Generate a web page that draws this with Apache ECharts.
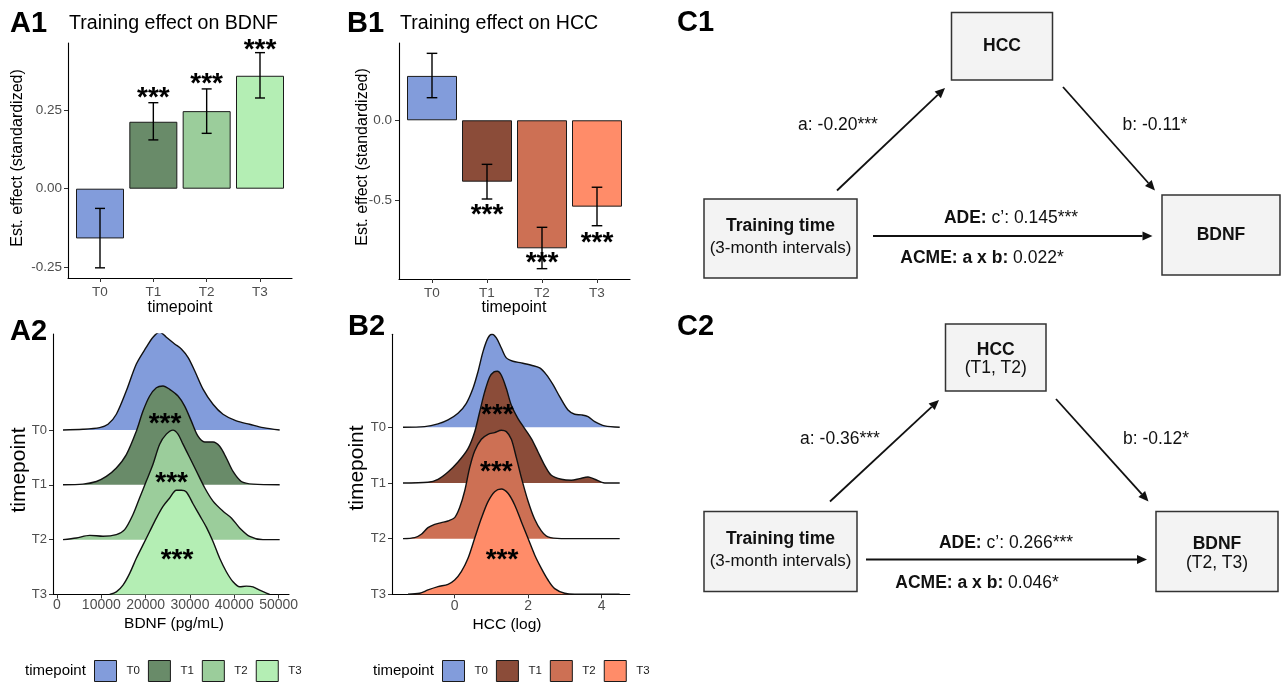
<!DOCTYPE html>
<html><head><meta charset="utf-8">
<script src="https://cdn.jsdelivr.net/npm/echarts@6/dist/echarts.min.js"></script>
<style>html,body{margin:0;padding:0;background:#fff}#c{width:1282px;height:683px}</style>
</head><body><div id="c"></div>
<script>
// ---------- data ----------
const timepoints = ['T0', 'T1', 'T2', 'T3'];
const bdnfColors = ['#829CDB', '#698B69', '#9BCD9B', '#B4EEB4'];
const hccColors  = ['#829CDB', '#8B4C39', '#CD7054', '#FF8C69'];

// A1: training effect on BDNF
const bdnfEffect = [-0.159, 0.214, 0.248, 0.361];
const bdnfLower  = [-0.253, 0.156, 0.177, 0.290];
const bdnfUpper  = [-0.063, 0.275, 0.319, 0.435];
const bdnfStarY  = [null, 0.306, 0.351, 0.458];
const bdnfYTicks = [-0.25, 0, 0.25];

// B1: training effect on HCC
const hccEffect = [0.279, -0.386, -0.805, -0.543];
const hccLower  = [0.142, -0.495, -0.933, -0.663];
const hccUpper  = [0.421, -0.277, -0.673, -0.421];
const hccStarY  = [null, -0.564, -0.868, -0.742];
const hccYTicks = [-1, -0.5, 0];

// A2: BDNF densities [x, height in row units]
const bdnfRidgeT0 = [[1354,0],[5866,0.012],[9626,0.043],[11506,0.104],[13386,0.287],[15642,0.714],[17898,1.203],[20154,1.509],[21658,1.692],[23162,1.784],[24666,1.692],[26546,1.569],[28050,1.478],[29554,1.325],[31058,1.081],[32938,0.745],[35194,0.469],[37450,0.287],[40458,0.165],[43466,0.104],[46474,0.043],[50234,0]];
const bdnfRidgeT1 = [[1354,0],[5866,0.012],[8874,0.061],[11130,0.153],[13386,0.305],[15642,0.550],[17898,0.978],[19402,1.344],[20906,1.619],[22410,1.771],[23914,1.802],[25418,1.741],[27298,1.619],[28802,1.436],[30306,1.161],[31810,0.886],[33314,0.782],[35194,0.782],[36698,0.702],[38202,0.489],[39706,0.244],[41586,0.061],[44218,0.012],[50234,0]];
const bdnfRidgeT2 = [[1354,0],[4362,0.031],[7370,0.079],[10378,0.061],[13386,0.092],[15266,0.183],[17146,0.458],[18650,0.764],[20154,1.069],[21658,1.375],[23162,1.741],[24666,1.924],[26170,1.998],[27298,1.924],[28426,1.741],[29930,1.497],[31434,1.252],[33314,0.947],[35194,0.703],[37450,0.519],[39330,0.397],[41210,0.214],[43466,0.061],[46474,0],[50234,0]];
const bdnfRidgeT3 = [[11882,0],[13386,0.049],[14890,0.171],[16394,0.385],[17898,0.660],[19402,0.904],[20906,1.148],[22410,1.393],[23914,1.607],[25418,1.759],[26922,1.900],[28050,1.900],[29178,1.869],[30682,1.655],[32186,1.442],[33690,1.228],[35194,0.965],[36698,0.660],[38202,0.415],[39706,0.232],[41210,0.140],[42714,0.153],[44218,0.140],[45722,0.079],[47978,0]];
const bdnfStars = [[24360, 3.195], [25870, 2.126], [27070, 0.709]];
const bdnfXTicks = [0, 10000, 20000, 30000, 40000, 50000];

// B2: HCC (log) densities
const hccRidgeT0 = [[-1.406,0],[-0.816,0.012],[-0.454,0.060],[-0.181,0.132],[0.091,0.251],[0.317,0.431],[0.499,0.701],[0.635,1.000],[0.771,1.359],[0.907,1.605],[1.016,1.671],[1.134,1.605],[1.270,1.425],[1.406,1.246],[1.587,1.186],[1.814,1.156],[2.086,1.114],[2.313,1.066],[2.494,0.946],[2.676,0.766],[2.857,0.551],[3.084,0.311],[3.265,0.234],[3.447,0.222],[3.628,0.192],[3.810,0.102],[4.082,0.024],[4.490,0]];
const hccRidgeT1 = [[-1.406,0],[-0.726,0.012],[-0.454,0.066],[-0.181,0.198],[0.091,0.377],[0.363,0.617],[0.544,0.916],[0.680,1.275],[0.816,1.635],[0.952,1.904],[1.070,1.994],[1.161,2.006],[1.270,1.934],[1.406,1.695],[1.542,1.395],[1.723,1.156],[1.905,0.976],[2.086,0.796],[2.268,0.557],[2.449,0.317],[2.630,0.138],[2.902,0.066],[3.175,0.048],[3.401,0.078],[3.628,0.108],[3.810,0.066],[4.082,0],[4.490,0]];
const hccRidgeT2 = [[-1.406,0],[-1.088,0.018],[-0.907,0.078],[-0.726,0.198],[-0.544,0.257],[-0.363,0.287],[-0.181,0.317],[0,0.377],[0.136,0.557],[0.272,0.856],[0.408,1.275],[0.544,1.575],[0.726,1.784],[0.907,1.874],[1.088,1.904],[1.270,1.946],[1.406,1.922],[1.542,1.784],[1.678,1.455],[1.814,1.096],[1.995,0.677],[2.177,0.347],[2.358,0.138],[2.540,0.030],[2.902,0],[4.490,0]];
const hccRidgeT3 = [[-1.270,0],[-0.952,0.018],[-0.726,0.078],[-0.454,0.138],[-0.181,0.180],[0,0.257],[0.181,0.407],[0.363,0.647],[0.544,1.006],[0.726,1.365],[0.907,1.665],[1.088,1.844],[1.270,1.892],[1.451,1.814],[1.633,1.605],[1.814,1.305],[1.995,1.006],[2.177,0.707],[2.358,0.467],[2.540,0.257],[2.721,0.102],[2.993,0.018],[3.265,0],[4.490,0]];
const hccStars = [[1.161, 3.30], [1.134, 2.275], [1.288, 0.695]];
const hccXTicks = [0, 2, 4];

// C: mediation path coefficients
const c1Coef = ['-0.20***', '-0.11*', '0.145***', '0.022*'];
const c2Coef = ['-0.36***', '-0.12*', '0.266***', '0.046*'];

// ---------- helpers ----------
const FF = '"Liberation Sans", Arial, Helvetica, sans-serif';
const TICK = '#4D4D4D';

function valueAxis(gridIndex, min, max, ticks, fmt, margin, fontSize) {
  return {
    gridIndex, type: 'value', min, max,
    axisLine: {show: true, onZero: false, lineStyle: {color: '#000', width: 1.1}},
    axisTick: {show: true, customValues: ticks, length: 4, lineStyle: {color: '#333'}},
    axisLabel: {customValues: ticks, formatter: fmt, margin, color: TICK, fontSize, fontFamily: FF},
    splitLine: {show: false}, name: ''
  };
}

function errorBarSeries(xi, lower, upper, hw) {
  return {
    type: 'custom', xAxisIndex: xi, yAxisIndex: xi, silent: true, z: 5,
    data: lower.map((l, i) => [i, l, upper[i]]),
    encode: {x: 0, y: [1, 2]},
    renderItem: (params, api) => {
      const x = api.value(0);
      const p1 = api.coord([x, api.value(1)]), p2 = api.coord([x, api.value(2)]);
      const st = {stroke: '#000', lineWidth: 1.4};
      return {type: 'group', children: [
        {type: 'line', shape: {x1: p1[0], y1: p1[1], x2: p2[0], y2: p2[1]}, style: st},
        {type: 'line', shape: {x1: p1[0] - hw, y1: p1[1], x2: p1[0] + hw, y2: p1[1]}, style: st},
        {type: 'line', shape: {x1: p2[0] - hw, y1: p2[1], x2: p2[0] + hw, y2: p2[1]}, style: st}
      ]};
    }
  };
}

function starSeries(xi, pts) {
  const fs = 28;
  return {
    type: 'custom', xAxisIndex: xi, yAxisIndex: xi, silent: true, z: 10,
    data: pts, encode: {x: 0, y: 1},
    renderItem: (params, api) => {
      const p = api.coord([api.value(0), api.value(1)]);
      return {type: 'text', x: p[0], y: p[1] + 0.18 * fs,
        style: {text: '***', fontSize: fs, fontWeight: 'bold', fontFamily: FF, fill: '#000', align: 'center', verticalAlign: 'middle', textAlign: 'center', textVerticalAlign: 'middle'}};
    }
  };
}

function ridgeSeries(xi, name, ridge, base, color) {
  return {
    type: 'line', name, xAxisIndex: xi, yAxisIndex: xi, silent: true,
    data: ridge.map(p => [p[0], base + p[1]]),
    smooth: 0.3, showSymbol: false, symbol: 'none',
    lineStyle: {color: '#111', width: 1.4},
    itemStyle: {color},
    areaStyle: {color, opacity: 1, origin: base}
  };
}

function T(x, y, text, o) {
  return {type: 'text', x, y, silent: true, z: 100, rotation: (o && o.rot) || 0,
    style: Object.assign({text, fontFamily: FF, fontSize: 16, fill: '#000',
      align: 'center', verticalAlign: 'middle', textAlign: 'center', textVerticalAlign: 'middle'}, o || {})};
}
function L(x, y, text, o) { return T(x, y, text, Object.assign({align: 'left', textAlign: 'left'}, o || {})); }

function box(x, y, w, h) {
  return {type: 'rect', silent: true, z: 50, shape: {x, y, width: w, height: h},
    style: {fill: '#F3F3F3', stroke: '#333', lineWidth: 1.5}};
}
function arrow(x1, y1, x2, y2) {
  const a = Math.atan2(y2 - y1, x2 - x1), Ln = 10, W = 4.5;
  const bx = x2 - Ln * Math.cos(a), by = y2 - Ln * Math.sin(a);
  return [
    {type: 'line', silent: true, z: 50, shape: {x1, y1, x2: bx, y2: by}, style: {stroke: '#111', lineWidth: 1.8}},
    {type: 'polygon', silent: true, z: 50, shape: {points: [[x2, y2], [bx + W * Math.sin(a), by - W * Math.cos(a)], [bx - W * Math.sin(a), by + W * Math.cos(a)]]}, style: {fill: '#111'}}
  ];
}
const RICH = {b: {fontWeight: 'bold', fontSize: 17.5, fontFamily: FF, fill: '#111'}};

function mediation(coef, boxes, arrows, labels, sub) {
  const out = [];
  boxes.forEach(b => out.push(box(b[0], b[1], b[2], b[3])));
  arrows.forEach(a => out.push(...arrow(a[0], a[1], a[2], a[3])));
  const [hccB, trB, bdB] = boxes;
  const hx = hccB[0] + hccB[2] / 2, tx = trB[0] + trB[2] / 2, bx = bdB[0] + bdB[2] / 2;
  if (sub) {
    out.push(T(hx, hccB[1] + 26.5, 'HCC', {fontWeight: 'bold', fontSize: 17.5, fill: '#111'}));
    out.push(T(hx, hccB[1] + 44, sub[0], {fontSize: 17.5, fill: '#111'}));
    out.push(T(bx, bdB[1] + 33, 'BDNF', {fontWeight: 'bold', fontSize: 17.5, fill: '#111'}));
    out.push(T(bx, bdB[1] + 51.5, sub[1], {fontSize: 17.5, fill: '#111'}));
  } else {
    out.push(T(hx, hccB[1] + hccB[3] / 2, 'HCC', {fontWeight: 'bold', fontSize: 17.5, fill: '#111'}));
    out.push(T(bx, bdB[1] + bdB[3] / 2, 'BDNF', {fontWeight: 'bold', fontSize: 17.5, fill: '#111'}));
  }
  out.push(T(tx, trB[1] + 27.5, 'Training time', {fontWeight: 'bold', fontSize: 17.5, fill: '#111'}));
  out.push(T(tx, trB[1] + 49.5, '(3-month intervals)', {fontSize: 17, fill: '#111'}));
  out.push(T(labels[0][0], labels[0][1], 'a: ' + coef[0], {fontSize: 17.5, fill: '#111'}));
  out.push(T(labels[1][0], labels[1][1], 'b: ' + coef[1], {fontSize: 17.5, fill: '#111'}));
  out.push(T(labels[2][0], labels[2][1], '{b|ADE:} c\u2019: ' + coef[2], {fontSize: 17.5, fill: '#111', rich: RICH}));
  out.push(T(labels[3][0], labels[3][1], '{b|ACME: a x b:} ' + coef[3], {fontSize: 17.5, fill: '#111', rich: RICH}));
  return out;
}

// ---------- option ----------
const legendCommon = {
  orient: 'horizontal', top: 660, itemWidth: 22, itemHeight: 21, itemGap: 8, icon: 'rect',
  selectedMode: false, padding: 0,
  textStyle: {fontSize: 11.5, color: '#1a1a1a', fontFamily: FF, padding: [0, 0, 0, 5]}
};

const graphics = [
  L(10, 24, 'A1', {fontSize: 29, fontWeight: 'bold'}),
  L(69, 24, 'Training effect on BDNF', {fontSize: 19.6}),
  L(347, 24, 'B1', {fontSize: 29, fontWeight: 'bold'}),
  L(400, 24, 'Training effect on HCC', {fontSize: 19.6}),
  T(18, 158, 'Est. effect (standardized)', {fontSize: 16, rot: Math.PI / 2}),
  T(363, 157, 'Est. effect (standardized)', {fontSize: 16, rot: Math.PI / 2}),
  T(180, 308, 'timepoint', {fontSize: 16}),
  T(514, 308, 'timepoint', {fontSize: 16}),
  L(10, 332, 'A2', {fontSize: 29, fontWeight: 'bold'}),
  L(348, 327, 'B2', {fontSize: 29, fontWeight: 'bold'}),
  T(19, 470, 'timepoint', {fontSize: 21, rot: Math.PI / 2}),
  T(357, 468, 'timepoint', {fontSize: 21, rot: Math.PI / 2}),
  T(174, 624, 'BDNF (pg/mL)', {fontSize: 15.5}),
  T(507, 625, 'HCC (log)', {fontSize: 15.5}),
  L(25, 671, 'timepoint', {fontSize: 15}),
  L(373, 671, 'timepoint', {fontSize: 15}),
  L(677, 23, 'C1', {fontSize: 29, fontWeight: 'bold'}),
  L(677, 327, 'C2', {fontSize: 29, fontWeight: 'bold'}),
  ...mediation(c1Coef,
    [[951.5, 12.5, 101, 67.5], [704, 199, 153, 79], [1162, 195, 118, 80]],
    [[837, 190.5, 945, 88], [1063, 87, 1155, 190.5], [873, 236, 1152.5, 236]],
    [[838, 125], [1155, 125], [1011, 218.5], [982, 258.5]], null),
  ...mediation(c2Coef,
    [[945.5, 324, 100.5, 67], [704, 511.5, 153, 80], [1156, 511.5, 122, 80]],
    [[830, 501.5, 939, 400], [1056, 399, 1148.5, 501.5], [866, 559.5, 1147, 559.5]],
    [[840, 439.5], [1156, 439.5], [1006, 543], [977, 583]], ['(T1, T2)', '(T2, T3)'])
];

const option = {
  backgroundColor: '#fff',
  animation: false,
  grid: [
    {left: 68, top: 43, width: 224, height: 235, outerBoundsMode: 'none', containLabel: false},
    {left: 399, top: 43, width: 231, height: 236, outerBoundsMode: 'none', containLabel: false},
    {left: 53, top: 334, width: 236, height: 260.5, outerBoundsMode: 'none', containLabel: false},
    {left: 392, top: 334.3, width: 237.7, height: 260, outerBoundsMode: 'none', containLabel: false}
  ],
  xAxis: [
    valueAxis(0, -0.6, 3.6, [0, 1, 2, 3], v => timepoints[Math.round(v)], 7, 13.5),
    valueAxis(1, -0.6, 3.6, [0, 1, 2, 3], v => timepoints[Math.round(v)], 7, 13.5),
    valueAxis(2, -904, 52340, bdnfXTicks, v => String(v), 4, 14),
    valueAxis(3, -1.705, 4.762, hccXTicks, v => String(v), 5, 14)
  ],
  yAxis: [
    valueAxis(0, -0.2855, 0.4658, bdnfYTicks, v => v.toFixed(2), 6, 13.5),
    valueAxis(1, -0.998, 0.486, hccYTicks, v => v.toFixed(1), 7, 13.5),
    valueAxis(2, 0, 4.75, [0, 1, 2, 3], v => timepoints[3 - Math.round(v)], 6, 13),
    valueAxis(3, 0, 4.67, [0, 1, 2, 3], v => timepoints[3 - Math.round(v)], 6, 13)
  ],
  legend: [
    Object.assign({}, legendCommon, {left: 94, data: timepoints.map((t, i) => ({name: t, itemStyle: {color: bdnfColors[i], borderColor: '#1a1a1a', borderWidth: 1}}))}),
    Object.assign({}, legendCommon, {left: 442, data: timepoints.map((t, i) => ({name: t, itemStyle: {color: hccColors[i], borderColor: '#1a1a1a', borderWidth: 1}}))})
  ],
  series: [
    {type: 'bar', xAxisIndex: 0, yAxisIndex: 0, barWidth: 48, silent: true,
      itemStyle: {borderColor: '#1a1a1a', borderWidth: 1},
      data: bdnfEffect.map((v, i) => ({value: [i, v], itemStyle: {color: bdnfColors[i]}}))},
    errorBarSeries(0, bdnfLower, bdnfUpper, 5),
    starSeries(0, bdnfStarY.map((v, i) => [i, v]).filter(p => p[1] !== null)),
    {type: 'bar', xAxisIndex: 1, yAxisIndex: 1, barWidth: 50, silent: true,
      itemStyle: {borderColor: '#1a1a1a', borderWidth: 1},
      data: hccEffect.map((v, i) => ({value: [i, v], itemStyle: {color: hccColors[i]}}))},
    errorBarSeries(1, hccLower, hccUpper, 5.3),
    starSeries(1, hccStarY.map((v, i) => [i, v]).filter(p => p[1] !== null)),
    ridgeSeries(2, 'T0', bdnfRidgeT0, 3, bdnfColors[0]),
    ridgeSeries(2, 'T1', bdnfRidgeT1, 2, bdnfColors[1]),
    ridgeSeries(2, 'T2', bdnfRidgeT2, 1, bdnfColors[2]),
    ridgeSeries(2, 'T3', bdnfRidgeT3, 0, bdnfColors[3]),
    starSeries(2, bdnfStars),
    ridgeSeries(3, 'T0', hccRidgeT0, 3, hccColors[0]),
    ridgeSeries(3, 'T1', hccRidgeT1, 2, hccColors[1]),
    ridgeSeries(3, 'T2', hccRidgeT2, 1, hccColors[2]),
    ridgeSeries(3, 'T3', hccRidgeT3, 0, hccColors[3]),
    starSeries(3, hccStars)
  ],
  graphic: graphics
};

const chart = echarts.init(document.getElementById('c'), null, {renderer: 'canvas'});
chart.setOption(option);
</script>
</body></html>
